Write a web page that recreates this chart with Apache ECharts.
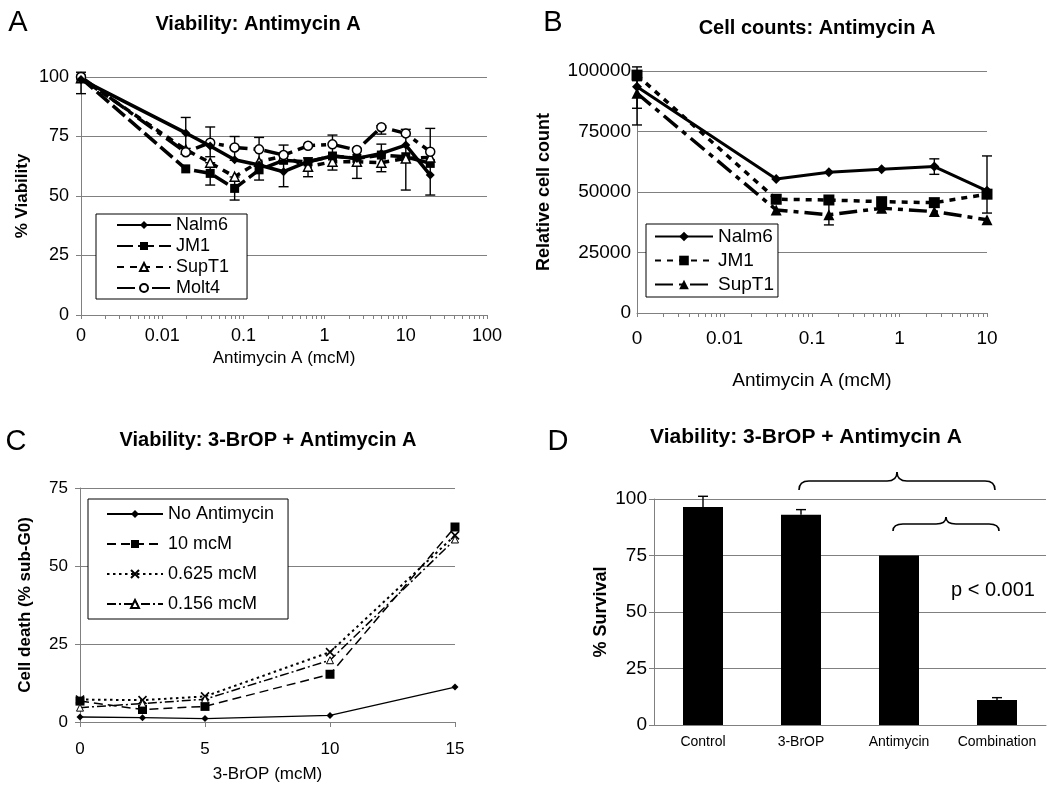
<!DOCTYPE html>
<html>
<head>
<meta charset="utf-8">
<script src="https://cdn.jsdelivr.net/npm/echarts@6/dist/echarts.min.js"></script>
<style>html,body{margin:0;padding:0;background:#fff;}#c{width:1050px;height:786px;}</style>
</head>
<body>
<div id="c"></div>
<script>
// ---------- Panel A : Viability, Antimycin A ----------
const concA   = [0.001, 0.0195, 0.039, 0.078, 0.156, 0.3125, 0.625, 1.25, 2.5, 5, 10, 20];
const nalm6A  = [99, 76.5, 71, 65.2, 63, 60.2, 64.4, 66.8, 65.8, 67.9, 71.4, 58.8];
const jm1A    = [99.5, 61.4, 59.5, 53.2, 61, 65, 64.4, 66.8, 65.8, 67.2, 66.5, 63.7];
const supt1A  = [99.5, 69.5, 64, 58.1, 64.4, 66.8, 62.3, 64.4, 64.4, 64, 65.8, 66.2];
const molt4A  = [100, 68.4, 72.4, 70.4, 69.6, 67.2, 71.1, 71.7, 69.3, 78.9, 76.3, 68.6];
const errA = [
  [0.001, 93, 102], [0.0195, 70, 83], [0.039, 66.5, 79], [0.039, 54.6, 64],
  [0.078, 48.3, 58], [0.078, 65, 75], [0.156, 56.7, 74.6], [0.3125, 53.9, 71.4],
  [0.625, 58.1, 66], [1.25, 60.9, 75.6], [2.5, 57.4, 70], [5, 60.2, 71.8],
  [5, 76, 79.5], [10, 52.5, 78], [20, 50.4, 78.4]
];
const ticksA = [0.001, 0.01, 0.1, 1, 10, 100];

// ---------- Panel B : Cell counts, Antimycin A ----------
const concB  = [0.001, 0.039, 0.156, 0.625, 2.5, 10];
const nalm6B = [93500, 55400, 58200, 59400, 60500, 50500];
const jm1B   = [98300, 47000, 46700, 46000, 45600, 49100];
const supt1B = [90800, 42600, 40600, 43300, 41900, 38500];
const errB = [[0.001, 77700, 101700], [0.001, 84600, 96000], [0.156, 36400, 45400],
              [2.5, 57300, 63700], [10, 41300, 64900]];
const ticksB = [0.001, 0.01, 0.1, 1, 10];

// ---------- Panel C : 3-BrOP + Antimycin A (cell death) ----------
const bropC    = [0, 2.5, 5, 10, 15];
const noAntiC  = [1.6, 1.4, 1.1, 2.1, 11.2];
const anti10C  = [6.7, 4.0, 5.0, 15.3, 62.5];
const anti0625C = [7.2, 7.0, 8.2, 22.4, 59.8];
const anti0156C = [4.6, 5.9, 7.3, 19.8, 58.5];

// ---------- Panel D : % Survival ----------
const groupsD   = ['Control', '3-BrOP', 'Antimycin', 'Combination'];
const survivalD = [96.5, 93, 75, 11.1];
const survErrD  = [101.2, 95.3, null, 12.1];

const FONT = '"Liberation Sans", Arial, Helvetica, sans-serif';
const GRAY = '#808080';

function minorLogTicks(lo, hi) {
  const out = [];
  for (let d = lo; d < hi; d++) {
    for (let k = 1; k <= 9; k++) out.push(+(k * Math.pow(10, d)).toPrecision(3));
  }
  out.push(+Math.pow(10, hi).toPrecision(3));
  return out;
}

function pairs(xs, ys) { return xs.map((x, i) => [x, ys[i]]); }

function errRender(capW, lowCap) {
  return function (params, api) {
    const x = api.value(0), lo = api.value(1), hi = api.value(2);
    const a = api.coord([x, lo]);
    const b = api.coord([x, hi]);
    const s = { stroke: '#000', lineWidth: 1.4 };
    const ch = [
      { type: 'line', shape: { x1: a[0], y1: a[1], x2: b[0], y2: b[1] }, style: s },
      { type: 'line', shape: { x1: b[0] - capW, y1: b[1], x2: b[0] + capW, y2: b[1] }, style: s }
    ];
    if (lowCap) ch.push({ type: 'line', shape: { x1: a[0] - capW, y1: a[1], x2: a[0] + capW, y2: a[1] }, style: s });
    return { type: 'group', children: ch };
  };
}

const logLabelFmt = v => (v < 0.005 ? '0' : String(+v.toPrecision(3)));
const plainFmt = v => String(v);

const axisTxt = { color: '#000', fontFamily: FONT };

const option = {
  animation: false,
  backgroundColor: '#fff',
  textStyle: { fontFamily: FONT },
  grid: [
    { left: 81, top: 77, width: 406, height: 238 },
    { left: 637, top: 71, width: 350, height: 242 },
    { left: 80, top: 488, width: 375, height: 234 },
    { left: 654, top: 499, width: 392, height: 226 }
  ],
  xAxis: [
    { gridIndex: 0, type: 'log', logBase: 10, min: 0.001, max: 100,
      name: 'Antimycin A (mcM)', nameLocation: 'middle', nameGap: 35,
      nameTextStyle: { ...axisTxt, fontSize: 17 },
      axisLine: { lineStyle: { color: GRAY, width: 1 } },
      axisTick: { inside: false, length: 4, lineStyle: { color: GRAY }, customValues: minorLogTicks(-3, 2) },
      axisLabel: { ...axisTxt, fontSize: 18, margin: 12, formatter: logLabelFmt, customValues: ticksA },
      splitLine: { show: false }, minorTick: { show: false } },
    { gridIndex: 1, type: 'log', logBase: 10, min: 0.001, max: 10,
      name: 'Antimycin A (mcM)', nameLocation: 'middle', nameGap: 58,
      nameTextStyle: { ...axisTxt, fontSize: 19 },
      axisLine: { lineStyle: { color: GRAY, width: 1 } },
      axisTick: { inside: false, length: 4, lineStyle: { color: GRAY }, customValues: minorLogTicks(-3, 1) },
      axisLabel: { ...axisTxt, fontSize: 19, margin: 16, formatter: logLabelFmt, customValues: ticksB },
      splitLine: { show: false } },
    { gridIndex: 2, type: 'value', min: 0, max: 15, interval: 5,
      name: '3-BrOP (mcM)', nameLocation: 'middle', nameGap: 44,
      nameTextStyle: { ...axisTxt, fontSize: 17 },
      axisLine: { lineStyle: { color: GRAY, width: 1 } },
      axisTick: { inside: false, length: 5, lineStyle: { color: GRAY } },
      axisLabel: { ...axisTxt, fontSize: 17, margin: 19 },
      splitLine: { show: false } },
    { gridIndex: 3, type: 'category', data: groupsD, boundaryGap: true,
      axisLine: { lineStyle: { color: GRAY, width: 1 } },
      axisTick: { inside: false, length: 5, alignWithLabel: false, lineStyle: { color: GRAY } },
      axisLabel: { ...axisTxt, fontSize: 14, margin: 10, interval: 0 },
      splitLine: { show: false } }
  ],
  yAxis: [
    { gridIndex: 0, type: 'value', min: 0, max: 100, interval: 25,
      name: '% Viability', nameLocation: 'middle', nameGap: 50, nameRotate: 90,
      nameTextStyle: { ...axisTxt, fontSize: 17, fontWeight: 'bold' },
      axisLine: { show: true, lineStyle: { color: GRAY } },
      axisTick: { show: true, length: 5, lineStyle: { color: GRAY } },
      axisLabel: { ...axisTxt, fontSize: 18, margin: 12 },
      splitLine: { lineStyle: { color: GRAY, width: 1 } } },
    { gridIndex: 1, type: 'value', min: 0, max: 100000, interval: 25000,
      name: 'Relative cell count', nameLocation: 'middle', nameGap: 84, nameRotate: 90,
      nameTextStyle: { ...axisTxt, fontSize: 18, fontWeight: 'bold' },
      axisLine: { show: true, lineStyle: { color: GRAY } },
      axisTick: { show: false },
      axisLabel: { ...axisTxt, fontSize: 19, margin: 6, formatter: plainFmt },
      splitLine: { lineStyle: { color: GRAY, width: 1 } } },
    { gridIndex: 2, type: 'value', min: 0, max: 75, interval: 25,
      name: 'Cell death (% sub-G0)', nameLocation: 'middle', nameGap: 46, nameRotate: 90,
      nameTextStyle: { ...axisTxt, fontSize: 17, fontWeight: 'bold' },
      axisLine: { show: true, lineStyle: { color: GRAY } },
      axisTick: { show: true, length: 5, lineStyle: { color: GRAY } },
      axisLabel: { ...axisTxt, fontSize: 17, margin: 12 },
      splitLine: { lineStyle: { color: GRAY, width: 1 } } },
    { gridIndex: 3, type: 'value', min: 0, max: 100, interval: 25,
      name: '% Survival', nameLocation: 'middle', nameGap: 44, nameRotate: 90,
      nameTextStyle: { ...axisTxt, fontSize: 18, fontWeight: 'bold' },
      axisLine: { show: true, lineStyle: { color: GRAY } },
      axisTick: { show: true, length: 5, lineStyle: { color: GRAY } },
      axisLabel: { ...axisTxt, fontSize: 19, margin: 7 },
      splitLine: { lineStyle: { color: GRAY, width: 1 } } }
  ],
  legend: [
    { left: 96, top: 214, orient: 'vertical', backgroundColor: '#fff', borderColor: '#000', borderWidth: 1,
      padding: [2, 18, 2, 20], itemGap: 3, itemWidth: 54, itemHeight: 10, selectedMode: false,
      textStyle: { ...axisTxt, fontSize: 18 }, formatter: n => n.slice(2),
      data: ['A_Nalm6', 'A_JM1', 'A_SupT1', 'A_Molt4'] },
    { left: 646, top: 224, orient: 'vertical', backgroundColor: '#fff', borderColor: '#000', borderWidth: 1,
      padding: [3, 4, 3, 8], itemGap: 5, itemWidth: 58, itemHeight: 12, selectedMode: false,
      textStyle: { ...axisTxt, fontSize: 19 }, formatter: n => n.slice(2),
      data: ['B_Nalm6', 'B_JM1', 'B_SupT1'] },
    { left: 88, top: 499, orient: 'vertical', backgroundColor: '#fff', borderColor: '#000', borderWidth: 1,
      padding: [6, 14, 6, 18], itemGap: 12, itemWidth: 56, itemHeight: 10, selectedMode: false,
      textStyle: { ...axisTxt, fontSize: 18 }, formatter: n => n.slice(2),
      data: ['C_No Antimycin', 'C_10 mcM', 'C_0.625 mcM', 'C_0.156 mcM'] }
  ],
  series: [
    // ---- A ----
    { name: 'A_Nalm6', type: 'line', xAxisIndex: 0, yAxisIndex: 0, data: pairs(concA, nalm6A),
      symbol: 'diamond', symbolSize: 9, itemStyle: { color: '#000' }, lineStyle: { color: '#000', width: 3.5 }, z: 5 },
    { name: 'A_JM1', type: 'line', xAxisIndex: 0, yAxisIndex: 0, data: pairs(concA, jm1A),
      symbol: 'rect', symbolSize: 9, itemStyle: { color: '#000' }, lineStyle: { color: '#000', width: 3.5, type: [16, 5] }, z: 4 },
    { name: 'A_SupT1', type: 'line', xAxisIndex: 0, yAxisIndex: 0, data: pairs(concA, supt1A),
      symbol: 'triangle', symbolSize: 9, itemStyle: { color: '#fff', borderColor: '#000', borderWidth: 1.5 },
      lineStyle: { color: '#000', width: 3.5, type: [7, 6] }, z: 4 },
    { name: 'A_Molt4', type: 'line', xAxisIndex: 0, yAxisIndex: 0, data: pairs(concA, molt4A),
      symbol: 'circle', symbolSize: 9, itemStyle: { color: '#fff', borderColor: '#000', borderWidth: 1.5 },
      lineStyle: { color: '#000', width: 3.5, type: [18, 6, 5, 6] }, z: 4 },
    { name: 'errA', type: 'custom', xAxisIndex: 0, yAxisIndex: 0, data: errA, encode: { x: 0, y: [1, 2] },
      renderItem: errRender(5, true), z: 3 },
    // ---- B ----
    { name: 'B_Nalm6', type: 'line', xAxisIndex: 1, yAxisIndex: 1, data: pairs(concB, nalm6B),
      symbol: 'diamond', symbolSize: 10, itemStyle: { color: '#000' }, lineStyle: { color: '#000', width: 3 }, z: 5 },
    { name: 'B_JM1', type: 'line', xAxisIndex: 1, yAxisIndex: 1, data: pairs(concB, jm1B),
      symbol: 'rect', symbolSize: 11, itemStyle: { color: '#000' }, lineStyle: { color: '#000', width: 3.5, type: [6, 6] }, z: 4 },
    { name: 'B_SupT1', type: 'line', xAxisIndex: 1, yAxisIndex: 1, data: pairs(concB, supt1B),
      symbol: 'triangle', symbolSize: 11, itemStyle: { color: '#000' }, lineStyle: { color: '#000', width: 3.5, type: [18, 6, 5, 6] }, z: 4 },
    { name: 'errB', type: 'custom', xAxisIndex: 1, yAxisIndex: 1, data: errB, encode: { x: 0, y: [1, 2] },
      renderItem: errRender(5, true), z: 3 },
    // ---- C ----
    { name: 'C_No Antimycin', type: 'line', xAxisIndex: 2, yAxisIndex: 2, data: pairs(bropC, noAntiC),
      symbol: 'diamond', symbolSize: 7, itemStyle: { color: '#000' }, lineStyle: { color: '#000', width: 1.3 } },
    { name: 'C_10 mcM', type: 'line', xAxisIndex: 2, yAxisIndex: 2, data: pairs(bropC, anti10C),
      symbol: 'rect', symbolSize: 9, itemStyle: { color: '#000' }, lineStyle: { color: '#000', width: 1.5, type: [9, 5] } },
    { name: 'C_0.625 mcM', type: 'line', xAxisIndex: 2, yAxisIndex: 2, data: pairs(bropC, anti0625C),
      symbol: 'path://M0,0L10,10M0,10L10,0', symbolSize: 8,
      itemStyle: { color: '#000', borderColor: '#000', borderWidth: 1.6 },
      lineStyle: { color: '#000', width: 2, type: [2.5, 3.5] } },
    { name: 'C_0.156 mcM', type: 'line', xAxisIndex: 2, yAxisIndex: 2, data: pairs(bropC, anti0156C),
      symbol: 'triangle', symbolSize: 7, itemStyle: { color: '#fff', borderColor: '#000', borderWidth: 1 },
      lineStyle: { color: '#000', width: 1.5, type: [9, 3, 2, 3] } },
    // ---- D ----
    { name: 'D_survival', type: 'bar', xAxisIndex: 3, yAxisIndex: 3, data: survivalD,
      barWidth: 40, itemStyle: { color: '#000' } },
    { name: 'errD', type: 'custom', xAxisIndex: 3, yAxisIndex: 3,
      data: survivalD.map((v, i) => [i, v, survErrD[i] == null ? v : survErrD[i]]).filter((d, i) => survErrD[i] != null),
      encode: { x: 0, y: [1, 2] }, renderItem: errRender(5, false), z: 3 }
  ]
};

const chart = echarts.init(document.getElementById('c'), null, { renderer: 'canvas' });
chart.setOption(option);

// ---------- annotations (titles, letters, braces, p-value) ----------
function txt(x, y, text, font, align) {
  return { type: 'text', x: x, y: y, z: 100,
    style: { text: text, font: font, fill: '#000', align: align || 'center', verticalAlign: 'middle' } };
}
const LF = '29px ' + FONT;
const BS = { stroke: '#000', lineWidth: 1.6, fill: 'none' };

const px = (cat, v) => chart.convertToPixel({ xAxisIndex: 3, yAxisIndex: 3 }, [cat, v]);
const y100 = px(0, 100)[1];
function brace(x1, x2, yb, yh, yt) {
  const xm = (x1 + x2) / 2, r = 10;
  const q = (ax, ay, cx, cy, bx, by) => ({ type: 'bezierCurve', z: 100, style: BS,
    shape: { x1: ax, y1: ay, cpx1: cx, cpy1: cy, x2: bx, y2: by } });
  const l = (ax, ay, bx, by) => ({ type: 'line', z: 100, style: BS, shape: { x1: ax, y1: ay, x2: bx, y2: by } });
  return [
    q(x1, yb, x1, yh, x1 + r, yh),
    l(x1 + r, yh, xm - r, yh),
    q(xm - r, yh, xm, yh, xm, yt),
    q(xm, yt, xm, yh, xm + r, yh),
    l(xm + r, yh, x2 - r, yh),
    q(x2 - r, yh, x2, yh, x2, yb)
  ];
}
const c1 = px(1, 0)[0], c2 = px(2, 0)[0], c3 = px(3, 0)[0];
const pPos = px(3, 60.5);

chart.setOption({
  graphic: [
    txt(18, 23, 'A', LF), txt(553, 23, 'B', LF), txt(16, 442, 'C', LF), txt(558, 442, 'D', LF),
    txt(258, 24, 'Viability: Antimycin A', 'bold 20px ' + FONT),
    txt(817, 28, 'Cell counts: Antimycin A', 'bold 20px ' + FONT),
    txt(268, 440, 'Viability: 3-BrOP + Antimycin A', 'bold 20px ' + FONT),
    txt(806, 437, 'Viability: 3-BrOP + Antimycin A', 'bold 21px ' + FONT),
    ...brace(c1 - 2, c3 - 2, y100 - 9, y100 - 18, y100 - 27),
    ...brace(c2 - 6, c3 + 2, y100 + 32, y100 + 25, y100 + 18),
    txt(pPos[0] - 4, pPos[1] + 2, 'p < 0.001', '20px ' + FONT)
  ]
});
</script>
</body>
</html>
